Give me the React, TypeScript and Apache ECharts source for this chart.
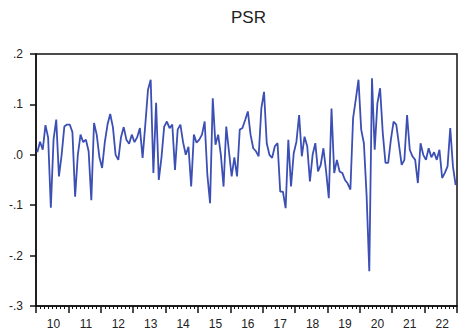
import { useEffect, useRef } from 'react';
import * as echarts from 'echarts';

const years = ['2010', '2011', '2012', '2013', '2014', '2015', '2016', '2017', '2018', '2019', '2020', '2021', '2022'];
const months = ['01', '02', '03', '04', '05', '06', '07', '08', '09', '10', '11', '12'];

const psr2010 = [0.005, 0.026, 0.01, 0.059, 0.034, -0.105, 0.03, 0.07, -0.043, 0.0, 0.056, 0.06];
const psr2011 = [0.06, 0.045, -0.083, 0.0, 0.04, 0.025, 0.03, 0.007, -0.09, 0.063, 0.04, -0.005];
const psr2012 = [-0.026, 0.025, 0.06, 0.081, 0.055, 0.0, -0.01, 0.035, 0.055, 0.03, 0.022, 0.04];
const psr2013 = [0.025, 0.035, 0.053, -0.006, 0.06, 0.129, 0.149, -0.036, 0.103, -0.05, -0.005, 0.056];
const psr2014 = [0.066, 0.053, 0.06, -0.03, 0.05, 0.06, 0.025, 0.0, 0.016, -0.063, 0.04, 0.024];
const psr2015 = [0.03, 0.04, 0.066, -0.04, -0.096, 0.112, 0.02, 0.04, 0.0, -0.063, 0.056, 0.007];
const psr2016 = [-0.043, -0.005, -0.043, 0.05, 0.053, 0.069, 0.086, 0.04, 0.013, 0.007, -0.003, 0.092];
const psr2017 = [0.125, 0.023, 0.0, -0.006, 0.017, 0.023, -0.073, -0.073, -0.106, 0.03, -0.063, 0.003];
const psr2018 = [0.026, 0.079, -0.003, 0.036, 0.017, -0.053, 0.0, 0.023, -0.033, -0.02, 0.013, -0.033];
const psr2019 = [-0.086, 0.092, -0.036, -0.01, -0.033, -0.036, -0.05, -0.057, -0.069, 0.073, 0.11, 0.149];
const psr2020 = [0.05, 0.023, -0.08, -0.231, 0.152, 0.01, 0.102, 0.132, 0.043, -0.016, -0.016, 0.03];
const psr2021 = [0.066, 0.06, 0.02, -0.02, -0.01, 0.079, 0.01, -0.003, -0.01, -0.056, 0.023, 0.0];
const psr2022 = [-0.01, 0.013, -0.005, 0.005, -0.01, 0.01, -0.046, -0.036, -0.023, 0.053, -0.023, -0.06];

const yTicks = [-0.3, -0.2, -0.1, 0.0, 0.1, 0.2];

const psrValues = [
  ...psr2010, ...psr2011, ...psr2012, ...psr2013, ...psr2014, ...psr2015, ...psr2016,
  ...psr2017, ...psr2018, ...psr2019, ...psr2020, ...psr2021, ...psr2022,
];
const categories = years.flatMap((y) => months.map((m) => `${y}-${m}`));

const FONT = '"Liberation Sans", Arial, sans-serif';

export default function App() {
  const ref = useRef<HTMLDivElement>(null);
  useEffect(() => {
    if (!ref.current) return;
    const chart = echarts.init(ref.current, null, { renderer: 'svg' });
    const yMin = yTicks[0];
    const yMax = yTicks[yTicks.length - 1];
    chart.setOption({
      animation: false,
      backgroundColor: '#ffffff',
      title: {
        text: 'PSR',
        left: 226,
        top: 4,
        textStyle: { fontFamily: FONT, fontSize: 17, fontWeight: 'normal', color: '#222' },
      },
      grid: {
        left: 36,
        top: 54,
        right: 1,
        bottom: 23,
        show: true,
        borderColor: '#111',
        borderWidth: 1.5,
        backgroundColor: 'transparent',
      },
      xAxis: [
        {
          type: 'category',
          data: categories,
          boundaryGap: true,
          position: 'bottom',
          axisLine: { show: true, onZero: false, lineStyle: { color: '#111', width: 1.5 } },
          axisTick: { show: false },
          splitLine: { show: false },
          axisLabel: {
            interval: (i: number) => i % 12 === 6,
            formatter: (v: string) => v.slice(2, 4),
            margin: 12,
            fontFamily: FONT,
            fontSize: 12,
            color: '#222',
          },
        },
        {
          type: 'value',
          min: 0,
          max: categories.length,
          interval: 12,
          position: 'bottom',
          axisLine: { show: false, onZero: false },
          axisLabel: { show: false },
          splitLine: { show: false },
          axisTick: { show: true, length: 7, lineStyle: { color: '#111', width: 1.5 } },
          minorTick: { show: true, splitNumber: 8, length: 3, lineStyle: { color: '#111', width: 1 } },
        },
      ],
      yAxis: {
        type: 'value',
        min: yMin,
        max: yMax,
        interval: 0.1,
        axisLine: { show: true, onZero: false, lineStyle: { color: '#111', width: 1.5 } },
        axisTick: { show: true, length: 6, lineStyle: { color: '#111', width: 1.5 } },
        splitLine: { show: false },
        axisLabel: {
          margin: 13,
          fontFamily: FONT,
          fontSize: 12,
          color: '#222',
          formatter: (v: number) => v.toFixed(1).replace('0.', '.'),
        },
      },
      series: [
        {
          type: 'line',
          data: psrValues,
          xAxisIndex: 0,
          showSymbol: false,
          symbol: 'none',
          lineStyle: { color: '#3c4fb4', width: 1.8 },
        },
      ],
    });
    return () => chart.dispose();
  }, []);
  return <div ref={ref} style={{ position: 'fixed', left: 0, top: 0, width: 458, height: 330 }} />;
}
